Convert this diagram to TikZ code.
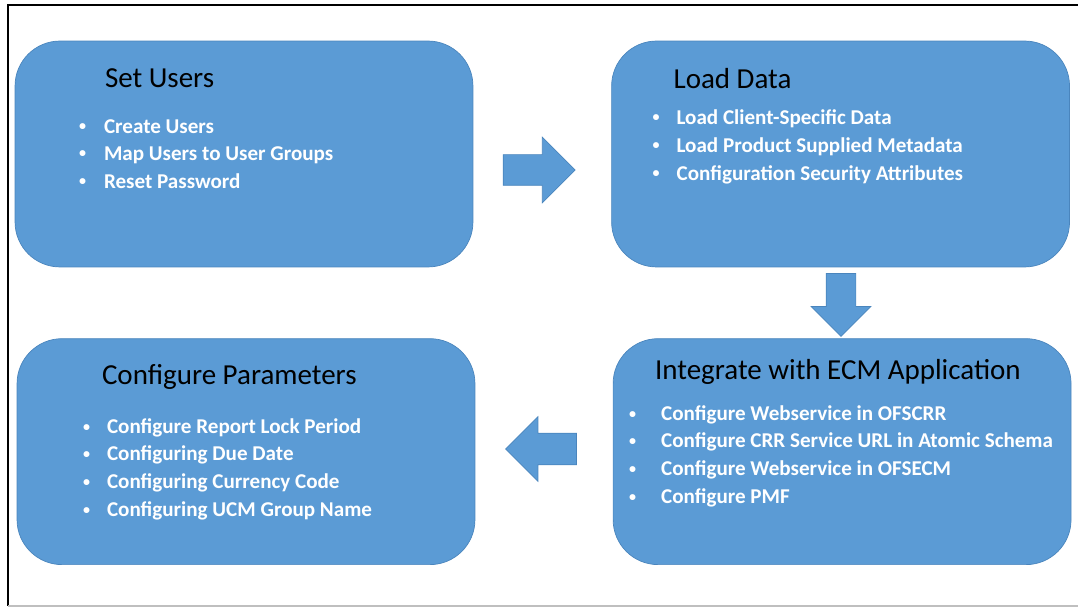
\documentclass[tikz,border=0pt]{standalone}
\usepackage{fontspec}
\setmainfont{Carlito}
\usetikzlibrary{positioning,shapes.arrows}
\definecolor{stageblue}{HTML}{5B9BD5}
\definecolor{stageedge}{HTML}{4A85BD}
\newcommand{\bul}[1][0.5cm]{\makebox[#1][l]{\raisebox{0.12em}{\fontsize{8}{8}\selectfont\textbullet}}}
\tikzset{
  % Specifications for style of nodes:
  stage/.style = {
    rectangle,
    rounded corners=0.9cm,
    draw=stageedge,
    fill=stageblue,
    minimum width=9.16cm,
    minimum height=4.52cm
  },
  boxtitle/.style = {
    font=\fontsize{16.5}{20}\selectfont,
    text=black,
    text height=0.7em,
    text depth=0.2em,
    inner sep=0pt
  },
  bulletline/.style = {
    font=\fontsize{12}{14}\selectfont\bfseries,
    text=white,
    text height=0.7em,
    text depth=0.2em,
    inner sep=0pt
  },
  blockarrow/.style = {
    single arrow,
    draw=stageedge,
    fill=stageblue,
    inner sep=0pt
  },
}
\begin{document}
\begin{tikzpicture}[x=0.02cm, y=-0.02cm]
    \useasboundingbox (0,0) rectangle (1078,607);
    % frame
    \draw[line width=1.2pt] (1078,5) -- (8,5) -- (8,606);
    \draw[gray!50, line width=0.8pt] (8,606) -- (1078,606);
    % Specification of nodes (position, etc.)
    \node[stage]                                (setusers)     at (244,154) {};
    \node[stage, right=2.76cm of setusers]      (loaddata)     {};
    \node[stage, below=1.42cm of setusers, xshift=0.04cm] (configparams) {};
    \node[stage, below=1.42cm of loaddata, xshift=0.03cm] (integrate)    {};
    % titles
    \node[boxtitle, right=1.8cm of setusers.north west, yshift=-0.84cm]      (setuserstitle)  {Set Users};
    \node[boxtitle, right=1.24cm of loaddata.north west, yshift=-0.86cm]     (loaddatatitle)  {Load Data};
    \node[boxtitle, right=1.7cm of configparams.north west, yshift=-0.84cm]  (configtitle)    {Configure Parameters};
    \node[boxtitle, right=0.84cm of integrate.north west, yshift=-0.74cm]    (integratetitle) {Integrate with ECM Application};
    % items
    \node[bulletline, right=1.28cm of setusers.north west, yshift=-1.76cm]   (setusers1) {\bul Create Users};
    \node[bulletline, right=1.28cm of setusers.north west, yshift=-2.3cm]    (setusers2) {\bul Map Users to User Groups};
    \node[bulletline, right=1.28cm of setusers.north west, yshift=-2.86cm]   (setusers3) {\bul Reset Password};
    \node[bulletline, right=0.82cm of loaddata.north west, yshift=-1.58cm]   (loaddata1) {\bul[0.48cm]Load Client-Specific Data};
    \node[bulletline, right=0.82cm of loaddata.north west, yshift=-2.14cm]   (loaddata2) {\bul[0.48cm]Load Product Supplied Metadata};
    \node[bulletline, right=0.82cm of loaddata.north west, yshift=-2.7cm]    (loaddata3) {\bul[0.48cm]Configuration Security Attributes};
    \node[bulletline, right=1.32cm of configparams.north west, yshift=-1.82cm] (config1) {\bul[0.48cm]Configure Report Lock Period};
    \node[bulletline, right=1.32cm of configparams.north west, yshift=-2.36cm] (config2) {\bul[0.48cm]Configuring Due Date};
    \node[bulletline, right=1.32cm of configparams.north west, yshift=-2.92cm] (config3) {\bul[0.48cm]Configuring Currency Code};
    \node[bulletline, right=1.32cm of configparams.north west, yshift=-3.48cm] (config4) {\bul[0.48cm]Configuring UCM Group Name};
    \node[bulletline, right=0.32cm of integrate.north west, yshift=-1.56cm]  (integrate1) {\bul[0.64cm]Configure Webservice in OFSCRR};
    \node[bulletline, right=0.32cm of integrate.north west, yshift=-2.1cm]   (integrate2) {\bul[0.64cm]Configure CRR Service URL in Atomic Schema};
    \node[bulletline, right=0.32cm of integrate.north west, yshift=-2.66cm]  (integrate3) {\bul[0.64cm]Configure Webservice in OFSECM};
    \node[bulletline, right=0.32cm of integrate.north west, yshift=-3.22cm]  (integrate4) {\bul[0.64cm]Configure PMF};
    % block arrows between the steps
    \node[blockarrow, minimum height=1.44cm, inner ysep=0.3cm, single arrow head extend=0.35cm]
        (arrowright) at (531.5,170) {};
    \node[blockarrow, minimum height=1.26cm, inner xsep=0.29cm, single arrow head extend=0.3cm, shape border rotate=270]
        (arrowdown) at (841,297.5) {};
    \node[blockarrow, minimum height=1.42cm, inner ysep=0.31cm, single arrow head extend=0.33cm, shape border rotate=180]
        (arrowleft) at (549,449) {};
  \end{tikzpicture}
\end{document}
